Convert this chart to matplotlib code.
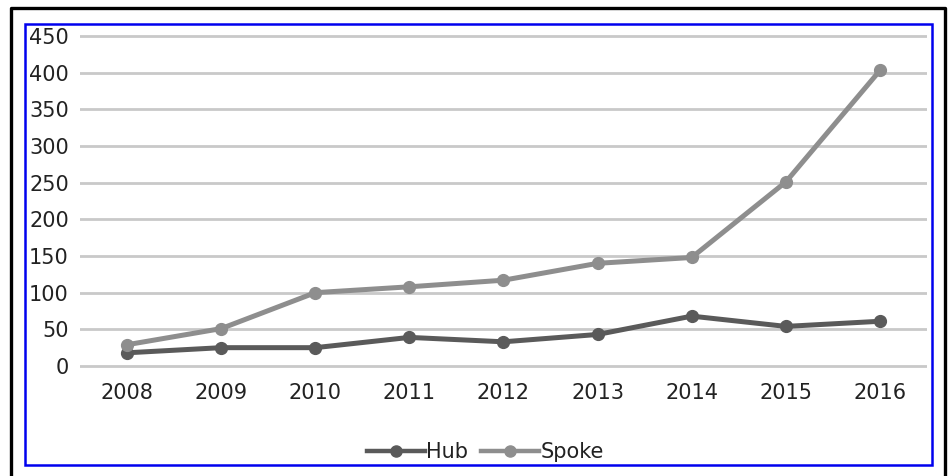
import matplotlib
matplotlib.use("Agg")
import matplotlib.pyplot as plt
from matplotlib.patches import Rectangle
from matplotlib.lines import Line2D

years = ["2008", "2009", "2010", "2011", "2012", "2013", "2014", "2015", "2016"]
hub = [18, 25, 25, 39, 33, 43, 68, 54, 61]
spoke = [29, 51, 100, 108, 117, 140, 148, 251, 403]
y_ticks = [0, 50, 100, 150, 200, 250, 300, 350, 400, 450]

W, H = 948, 476
fig = plt.figure(figsize=(W / 100, H / 100), dpi=100)
fig.patch.set_facecolor("white")

# plot area in pixel coordinates (0 at y=366px, 450 at y=36px)
px_per_unit = 330 / 450
pad_units = 3
left_px, right_px = 80, 927
top_px = 36 - pad_units * px_per_unit
bot_px = 366 + pad_units * px_per_unit
ax = fig.add_axes([left_px / W, 1 - bot_px / H, (right_px - left_px) / W, (bot_px - top_px) / H])

HUB_C, SPOKE_C = "#5a5a5a", "#8e8e8e"
x = list(range(len(years)))
ax.plot(x, hub, color=HUB_C, lw=3.6, marker="o", ms=8.5, solid_capstyle="round", label="Hub", zorder=3)
ax.plot(x, spoke, color=SPOKE_C, lw=3.6, marker="o", ms=8.5, solid_capstyle="round", label="Spoke", zorder=3)

ax.set_xlim(-0.5, len(years) - 0.5)
ax.set_ylim(-pad_units, 450 + pad_units)
ax.set_xticks(x)
ax.set_xticklabels(years)
ax.set_yticks(y_ticks)
ax.yaxis.grid(True, color="#c9c9c9", lw=2.0)
ax.set_axisbelow(True)
for s in ax.spines.values():
    s.set_visible(False)
ax.tick_params(axis="both", length=0, labelsize=15, labelcolor="#222222")
ax.tick_params(axis="y", pad=8)
ax.tick_params(axis="x", pad=11)

# legend below the plot
handles = [
    Line2D([], [], color=HUB_C, lw=3.2, marker="o", ms=8),
    Line2D([], [], color=SPOKE_C, lw=3.2, marker="o", ms=8),
]
fig.legend(handles, ["Hub", "Spoke"], loc="center", bbox_to_anchor=(0.512, 1 - 452 / H),
           ncol=2, frameon=False, fontsize=15, handlelength=2.8, handletextpad=0.05,
           columnspacing=0.6, labelcolor="#222222")

# blue frame around the chart
fig.add_artist(Rectangle((25 / W, 1 - 465 / H), (932 - 25) / W, (465 - 24) / H,
                         transform=fig.transFigure, fill=False, edgecolor="#0000ee", lw=1.8))
# outer black border (left, top, right)
fig.add_artist(Line2D([11 / W, 11 / W, 945 / W, 945 / W], [0, 1 - 8 / H, 1 - 8 / H, 0],
                      transform=fig.transFigure, color="black", lw=2.4))

fig.savefig("out.png", dpi=100)
